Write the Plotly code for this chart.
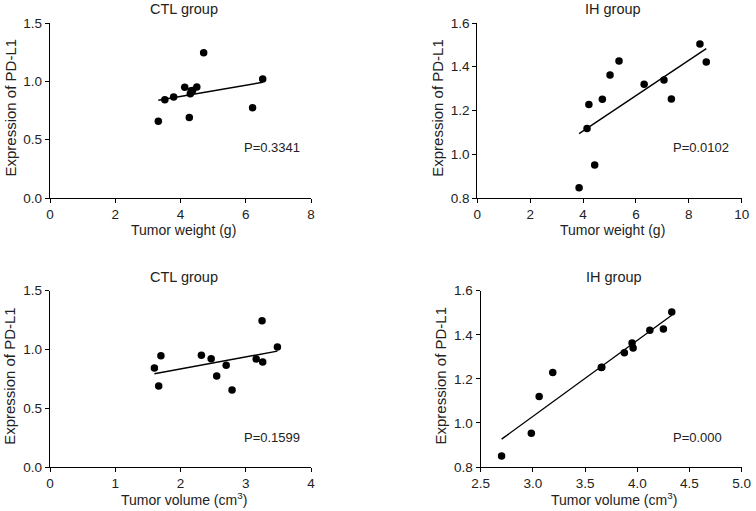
import numpy as np
import plotly.graph_objects as go

# ---- data ----
ctl_weight = [3.32, 3.52, 3.79, 4.13, 4.27, 4.30, 4.33, 4.37, 4.50, 4.71, 6.21, 6.52]
ctl_weight_expr = [0.657, 0.843, 0.866, 0.949, 0.691, 0.893, 0.919, 0.921, 0.951, 1.246, 0.774, 1.020]

ih_weight = [3.85, 4.15, 4.22, 4.44, 4.73, 5.02, 5.36, 6.31, 7.06, 7.34, 8.42, 8.66]
ih_weight_expr = [0.847, 1.118, 1.228, 0.951, 1.251, 1.362, 1.426, 1.320, 1.340, 1.253, 1.504, 1.422]

ctl_volume = [1.60, 1.666, 1.70, 2.32, 2.47, 2.555, 2.70, 2.79, 3.16, 3.25, 3.26, 3.485]
ctl_volume_expr = [0.842, 0.689, 0.947, 0.950, 0.921, 0.774, 0.865, 0.655, 0.919, 1.245, 0.893, 1.021]

ih_volume = [2.70, 2.985, 3.06, 3.19, 3.655, 3.66, 3.876, 3.95, 3.96, 4.12, 4.25, 4.33]
ih_volume_expr = [0.850, 0.953, 1.120, 1.229, 1.251, 1.253, 1.319, 1.363, 1.340, 1.420, 1.426, 1.503]

p_labels = ["P=0.3341", "P=0.0102", "P=0.1599", "P=0.000"]
titles = ["CTL group", "IH group", "CTL group", "IH group"]
x_titles = ["Tumor weight (g)", "Tumor weight (g)", "Tumor volume (cm<sup>3</sup>)", "Tumor volume (cm<sup>3</sup>)"]
y_title = "Expression of PD-L1"

W, H = 756, 511
FONT = "Liberation Sans, Arial, Helvetica, sans-serif"

panels = [
    dict(x=ctl_weight, y=ctl_weight_expr, xr=[0, 8], xd=2, yr=[0, 1.5], yd=0.5, yfmt=".1f", xfmt="d",
         px=(50, 311), py=(23, 198), p=(5.88, 0.43)),
    dict(x=ih_weight, y=ih_weight_expr, xr=[0, 10], xd=2, yr=[0.8, 1.6], yd=0.2, yfmt=".1f", xfmt="d",
         px=(477.3, 741.7), py=(23, 198), p=(7.34, 1.03)),
    dict(x=ctl_volume, y=ctl_volume_expr, xr=[0, 4], xd=1, yr=[0, 1.5], yd=0.5, yfmt=".1f", xfmt="d",
         px=(50, 311), py=(290.7, 467), p=(2.94, 0.25)),
    dict(x=ih_volume, y=ih_volume_expr, xr=[2.5, 5.0], xd=0.5, yr=[0.8, 1.6], yd=0.2, yfmt=".1f", xfmt=".1f",
         px=(480.7, 741.7), py=(290.7, 467), p=(4.32, 0.933)),
]

fig = go.Figure()
annotations = []
layout = {}
for i, pn in enumerate(panels):
    k = "" if i == 0 else str(i + 1)
    xa, ya = "x" + k, "y" + k
    xs = np.array(pn["x"], dtype=float)
    ys = np.array(pn["y"], dtype=float)
    fig.add_trace(go.Scatter(x=xs, y=ys, mode="markers", xaxis=xa, yaxis=ya,
                             marker=dict(color="black", size=7.5), showlegend=False))
    m, b = np.polyfit(xs, ys, 1)
    lx = np.array([xs.min(), xs.max()])
    fig.add_trace(go.Scatter(x=lx, y=m * lx + b, mode="lines", xaxis=xa, yaxis=ya,
                             line=dict(color="black", width=1.4), showlegend=False))
    x0, x1 = pn["px"]
    y0, y1 = pn["py"]
    common = dict(showline=True, linecolor="black", linewidth=1.3, ticks="outside", ticklen=4,
                  tickwidth=1.3, tickcolor="black", showgrid=False, zeroline=False, automargin=False,
                  tickfont=dict(family=FONT, size=13.5, color="#222"), mirror=False)
    layout["xaxis" + k] = dict(domain=[x0 / W, x1 / W], range=pn["xr"], dtick=pn["xd"], tick0=pn["xr"][0],
                               tickformat=pn["xfmt"], anchor=ya, **common)
    layout["yaxis" + k] = dict(domain=[1 - y1 / H, 1 - y0 / H], range=pn["yr"], dtick=pn["yd"], tick0=pn["yr"][0],
                               tickformat=pn["yfmt"], anchor=xa, **common)
    cx = (x0 + x1) / 2
    annotations.append(dict(text=titles[i], x=(cx + 3) / W, y=1 - (y0 - 14) / H, xref="paper", yref="paper",
                            showarrow=False, xanchor="center", yanchor="middle",
                            font=dict(family=FONT, size=14.5, color="#222")))
    annotations.append(dict(text=x_titles[i], x=(cx + 3) / W, y=1 - (y1 + 32) / H, xref="paper", yref="paper",
                            showarrow=False, xanchor="center", yanchor="middle",
                            font=dict(family=FONT, size=14, color="#222")))
    annotations.append(dict(text=y_title, x=(x0 - 40) / W, y=1 - ((y0 + y1) / 2 - 3) / H, xref="paper", yref="paper",
                            showarrow=False, xanchor="center", yanchor="middle", textangle=-90,
                            font=dict(family=FONT, size=15, color="#222")))
    annotations.append(dict(text=p_labels[i], x=pn["p"][0], y=pn["p"][1], xref=xa, yref=ya,
                            showarrow=False, xanchor="left", yanchor="middle",
                            font=dict(family=FONT, size=13, color="#222")))

fig.update_layout(width=W, height=H, margin=dict(l=0, r=0, t=0, b=0, pad=0), autosize=False,
                  plot_bgcolor="white", paper_bgcolor="white", annotations=annotations, **layout)
fig.write_html("out.html", config={"displayModeBar": False},
               post_script="document.body.style.margin='0';document.body.style.overflow='hidden';")
